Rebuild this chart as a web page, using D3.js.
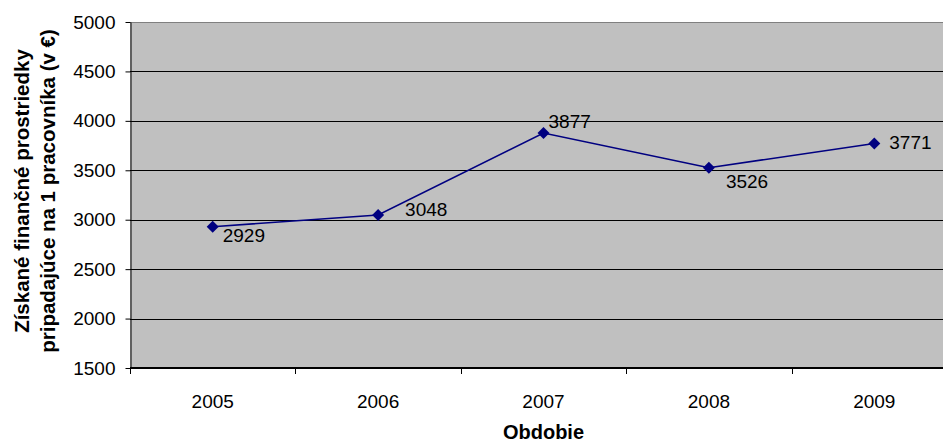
<!DOCTYPE html>
<html>
<head>
<meta charset="utf-8">
<script src="https://cdn.jsdelivr.net/npm/d3@7"></script>
<style>
  html, body { margin: 0; padding: 0; background: #fff; }
  svg { display: block; font-family: "Liberation Sans", Arial, sans-serif; }
</style>
</head>
<body>
<svg id="chart" width="943" height="443"></svg>
<script>
// Funds obtained per employee, by year
const years = ["2005", "2006", "2007", "2008", "2009"];
const values = [2929, 3048, 3877, 3526, 3771];
const yTicks = [1500, 2000, 2500, 3000, 3500, 4000, 4500, 5000];
// where each value label sits relative to its marker
const labelSide = ["belowRight", "right", "aboveRight", "belowRight2", "right2"];

const labelOffsets = {
  belowRight:  { dx: 10, dy: 15 },
  right:       { dx: 27, dy: 1 },
  aboveRight:  { dx: 5,  dy: -5 },
  belowRight2: { dx: 17, dy: 20 },
  right2:      { dx: 15, dy: 6 }
};

const svg = d3.select("#chart");
const plot = { left: 130, right: 957, top: 22, bottom: 368 };

const x = d3.scaleBand().domain(years).range([plot.left, plot.right]).padding(0);
const y = d3.scaleLinear().domain([1500, 5000]).range([plot.bottom, plot.top]);

// plot background
svg.append("rect")
  .attr("x", plot.left).attr("y", plot.top)
  .attr("width", plot.right - plot.left).attr("height", plot.bottom - plot.top)
  .attr("fill", "#c0c0c0");

// horizontal gridlines
svg.append("g")
  .selectAll("line")
  .data(yTicks.filter(t => t > 1500))
  .join("line")
  .attr("x1", plot.left).attr("x2", plot.right)
  .attr("y1", d => Math.round(y(d)) + 0.5).attr("y2", d => Math.round(y(d)) + 0.5)
  .attr("stroke", d => d === 5000 ? "#808080" : "#000")
  .attr("stroke-width", 1);

// y axis
const yAxis = svg.append("g")
  .attr("transform", `translate(${plot.left + 0.5},0)`)
  .call(d3.axisLeft(y).tickValues(yTicks).tickSize(5).tickSizeOuter(0).tickPadding(10).tickFormat(d3.format("d")));
yAxis.select(".domain").attr("stroke", "#000");
yAxis.selectAll(".tick line").attr("stroke", "#000");
yAxis.selectAll(".tick text").attr("font-size", 19).attr("fill", "#000")
  .attr("font-family", "Liberation Sans, Arial, sans-serif");

// x axis: labels at category centres, tick marks between categories
const xAxis = svg.append("g")
  .attr("transform", `translate(0,${plot.bottom})`)
  .call(d3.axisBottom(x).tickSize(0).tickPadding(27));
xAxis.select(".domain").remove();
xAxis.selectAll(".tick text").attr("font-size", 19).attr("fill", "#000")
  .attr("font-family", "Liberation Sans, Arial, sans-serif");

svg.append("line")
  .attr("x1", plot.left).attr("x2", plot.right)
  .attr("y1", plot.bottom).attr("y2", plot.bottom)
  .attr("stroke", "#000").attr("stroke-width", 2);

svg.append("g")
  .selectAll("line")
  .data(years)
  .join("line")
  .attr("x1", d => Math.round(x(d)) + 0.5).attr("x2", d => Math.round(x(d)) + 0.5)
  .attr("y1", plot.bottom).attr("y2", plot.bottom + 6)
  .attr("stroke", "#000");

// series line
const line = d3.line()
  .x((d, i) => x(years[i]) + x.bandwidth() / 2)
  .y(d => y(d));

svg.append("path")
  .datum(values)
  .attr("d", line)
  .attr("fill", "none")
  .attr("stroke", "#000080")
  .attr("stroke-width", 1.6);

// diamond markers (a square turned 45°)
svg.append("g")
  .selectAll("path")
  .data(values)
  .join("path")
  .attr("transform", (d, i) => `translate(${x(years[i]) + x.bandwidth() / 2},${y(d)}) rotate(45)`)
  .attr("d", d3.symbol().type(d3.symbolSquare).size(72))
  .attr("fill", "#000080");

// value labels
svg.append("g")
  .selectAll("text")
  .data(values)
  .join("text")
  .attr("x", (d, i) => x(years[i]) + x.bandwidth() / 2 + labelOffsets[labelSide[i]].dx)
  .attr("y", (d, i) => y(d) + labelOffsets[labelSide[i]].dy)
  .attr("font-size", 19)
  .attr("fill", "#000")
  .text(d => d);

// axis titles
svg.append("text")
  .attr("x", x("2007") + x.bandwidth() / 2)
  .attr("y", 439)
  .attr("text-anchor", "middle")
  .attr("font-size", 20)
  .attr("font-weight", "bold")
  .text("Obdobie");

const yTitle = svg.append("text")
  .attr("transform", "translate(0,191) rotate(-90)")
  .attr("text-anchor", "middle")
  .attr("font-size", 20.5)
  .attr("font-weight", "bold");
yTitle.append("tspan").attr("x", 0).attr("y", 29).text("Získané finančné prostriedky");
yTitle.append("tspan").attr("x", 0).attr("y", 55).text("pripadajúce na 1 pracovníka (v €)");
</script>
</body>
</html>
